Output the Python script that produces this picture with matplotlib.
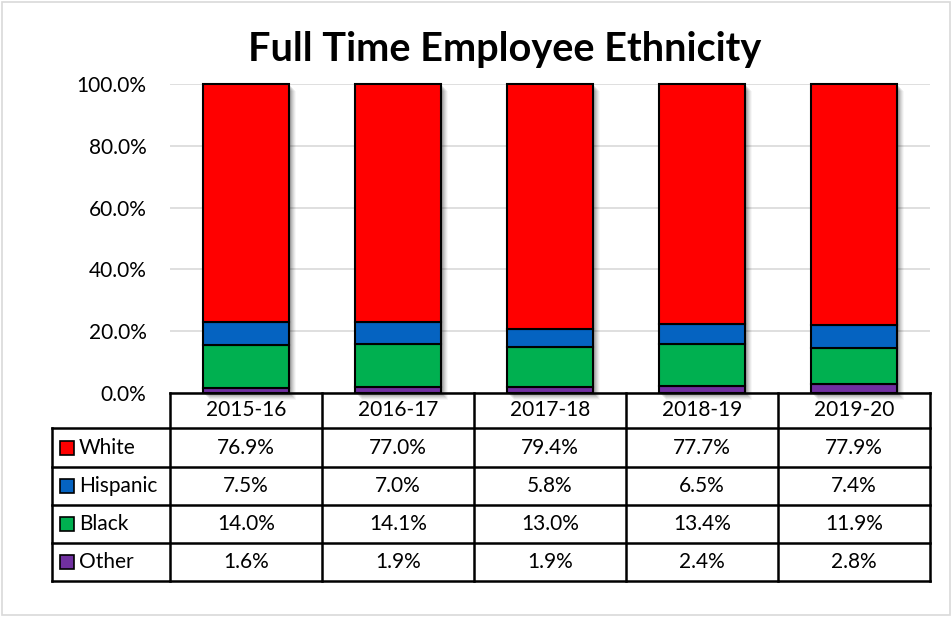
import numpy as np
import matplotlib.pyplot as plt
import matplotlib.transforms as mtransforms
from matplotlib.patches import Rectangle

# data
years = ['2015-16', '2016-17', '2017-18', '2018-19', '2019-20']
groups = ['White', 'Hispanic', 'Black', 'Other']
white = [76.9, 77.0, 79.4, 77.7, 77.9]
hispanic = [7.5, 7.0, 5.8, 6.5, 7.4]
black = [14.0, 14.1, 13.0, 13.4, 11.9]
other = [1.6, 1.9, 1.9, 2.4, 2.8]
colors = ['#FF0000', '#0563C1', '#00B050', '#7030A0']
values = [white, hispanic, black, other]

plt.rcParams['font.family'] = ['Lato', 'DejaVu Sans']

W, H = 953, 618
fig = plt.figure(figsize=(W / 100, H / 100), dpi=100)

# plot area in pixels
left, right, top, bottom = 170, 930, 84, 393
ax = fig.add_axes([left / W, (H - bottom) / H, (right - left) / W, (bottom - top) / H])
x = np.arange(len(years))
ax.set_xlim(-0.5, len(years) - 0.5)
ax.set_ylim(0, 100)
ax.set_yticks(np.arange(0, 101, 20))
ax.set_yticklabels([f'{v:.1f}%' for v in np.arange(0, 101, 20)], fontsize=15)
ax.tick_params(axis='y', length=0, pad=17)
ax.set_xticks([])
for s in ax.spines.values():
    s.set_visible(False)
ax.grid(axis='y', color='#D9D9D9', lw=1.2)
ax.set_axisbelow(True)

# soft shadow behind each bar (bottom-right)
totals = np.sum(values, axis=0)
bw = 0.56
for i, a in enumerate([0.10, 0.10, 0.09, 0.08, 0.06, 0.05, 0.03]):
    off = mtransforms.ScaledTranslation((1 + i) / 100, -(1 + i) / 100, fig.dpi_scale_trans)
    ax.bar(x, totals, bw, color='black', alpha=a, lw=0,
           transform=ax.transData + off, zorder=1, clip_on=False)

# stacked bars: Other at the bottom, White on top
base = np.zeros(len(years))
for vals, col in list(zip(values, colors))[::-1]:
    ax.bar(x, vals, bw, bottom=base, color=col, edgecolor='black', lw=1.5,
           zorder=2, clip_on=False)
    base += np.array(vals)

# overlay in pixel coordinates for title, table and border
ov = fig.add_axes([0, 0, 1, 1], zorder=5)
ov.set_xlim(0, W)
ov.set_ylim(H, 0)
ov.axis('off')
ov.patch.set_visible(False)

ov.add_patch(Rectangle((2, 2), W - 5, H - 5, fill=False, ec='#D9D9D9', lw=1.2))
ov.text(505, 50, 'Full Time Employee Ethnicity', ha='center', va='center',
        fontsize=28.5, fontweight='bold')

col_edges = left + (right - left) / len(years) * np.arange(len(years) + 1)
row_edges = [393, 428, 467, 505, 543, 581]
lab_left = 52
lw = 1.8

# header row
ov.plot([left, right], [row_edges[0], row_edges[0]], color='black', lw=lw)
for xe in col_edges:
    ov.plot([xe, xe], [row_edges[0], row_edges[-1]], color='black', lw=lw)
ov.plot([lab_left, lab_left], [row_edges[1], row_edges[-1]], color='black', lw=lw)
for ye in row_edges[1:]:
    ov.plot([lab_left, right], [ye, ye], color='black', lw=lw)

for j, yr in enumerate(years):
    ov.text((col_edges[j] + col_edges[j + 1]) / 2, (row_edges[0] + row_edges[1]) / 2,
            yr, ha='center', va='center', fontsize=15)

for i, (g, vals, col) in enumerate(zip(groups, values, colors)):
    ym = (row_edges[i + 1] + row_edges[i + 2]) / 2
    ov.add_patch(Rectangle((60, ym - 7), 14, 14, fc=col, ec='black', lw=1.2))
    ov.text(79, ym, g, ha='left', va='center', fontsize=15)
    for j, v in enumerate(vals):
        ov.text((col_edges[j] + col_edges[j + 1]) / 2, ym, f'{v:.1f}%',
                ha='center', va='center', fontsize=15)

fig.savefig('out.png', dpi=100)
